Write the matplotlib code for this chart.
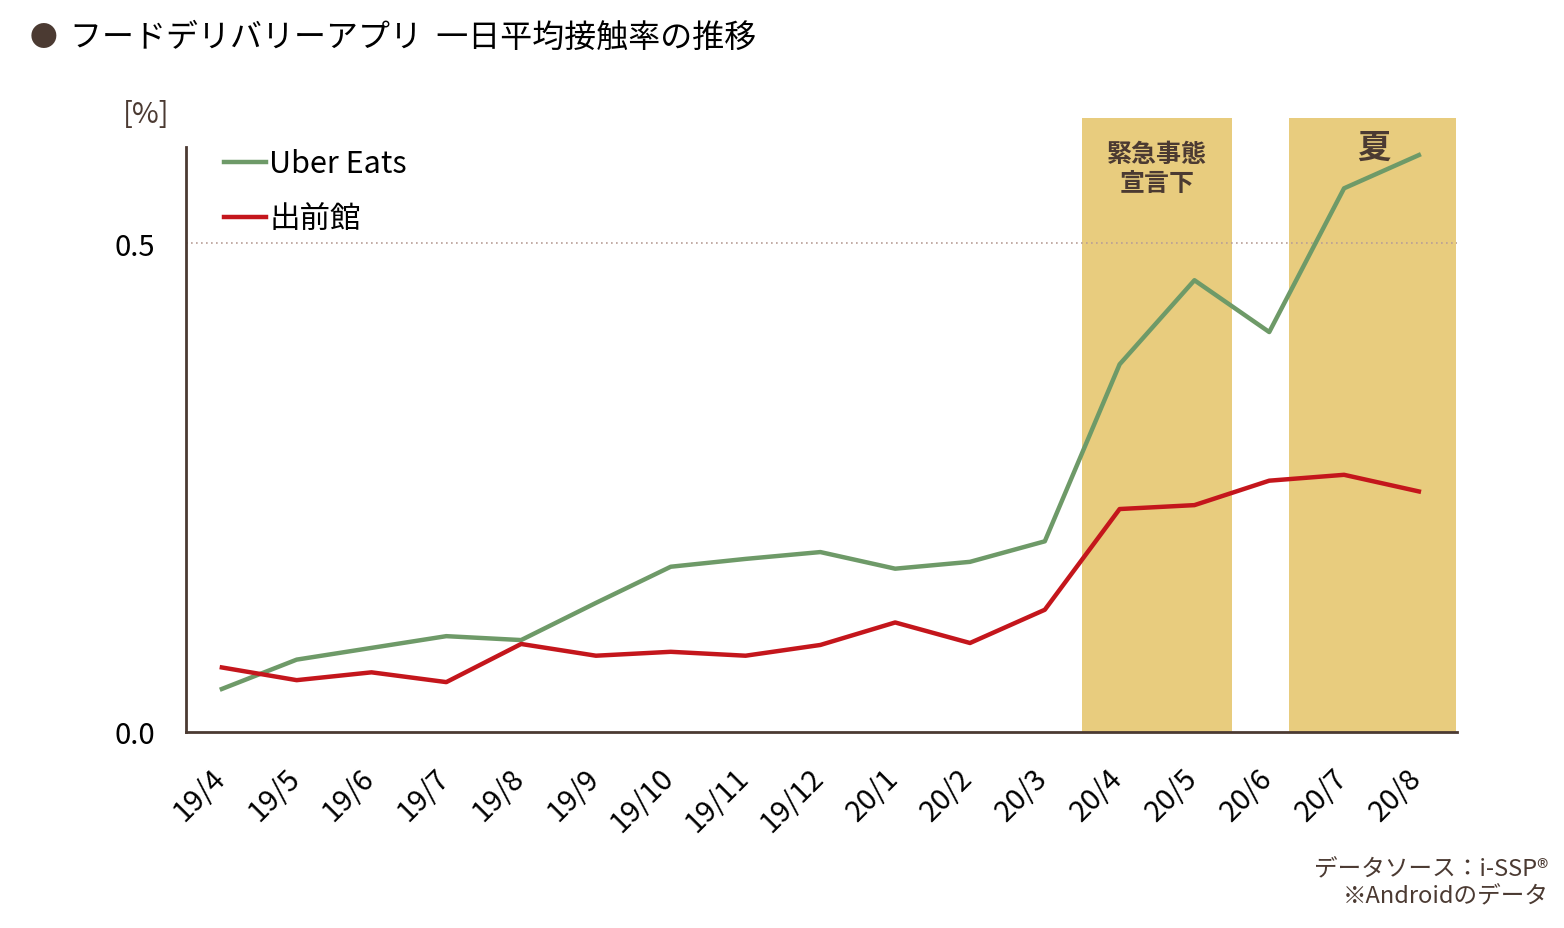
import matplotlib.pyplot as plt
import matplotlib.transforms as mtransforms

plt.rcParams['font.family'] = ['Noto Sans CJK JP', 'DejaVu Sans']

months = ["19/4", "19/5", "19/6", "19/7", "19/8", "19/9", "19/10", "19/11", "19/12",
          "20/1", "20/2", "20/3", "20/4", "20/5", "20/6", "20/7", "20/8"]
uber_eats = [0.044, 0.074, 0.086, 0.098, 0.094, 0.132, 0.169, 0.177, 0.184,
             0.167, 0.174, 0.195, 0.376, 0.462, 0.409, 0.556, 0.590]
demaecan = [0.066, 0.053, 0.061, 0.051, 0.090, 0.078, 0.082, 0.078, 0.089,
            0.112, 0.091, 0.125, 0.228, 0.232, 0.257, 0.263, 0.246]
emergency_span = (11.5, 13.5)
summer_span = (14.27, 16.5)

brown = "#4B3A32"
green = "#6E9A68"
red = "#C4161C"
shade = "#E8CC7E"

fig = plt.figure(figsize=(15.64, 9.29), dpi=100)
ax = fig.add_axes([0.1189, 0.211, 0.8127, 0.661])

x = list(range(len(months)))

# shaded periods
ax.axvspan(*emergency_span, color=shade, lw=0, zorder=0)
ax.axvspan(*summer_span, color=shade, lw=0, zorder=0)

# dotted reference line at 0.5
ax.axhline(0.5, color="#B89E96", lw=1.2, ls=(0, (1, 2)), zorder=1)

ax.plot(x, uber_eats, color=green, lw=3.2, label="Uber Eats", zorder=3)
ax.plot(x, demaecan, color=red, lw=3.2, label="出前館", zorder=3)

ax.set_xlim(-0.48, 16.51)
ax.set_ylim(0, 0.628)
ax.set_yticks([0.0, 0.5])
ax.set_yticklabels(["0.0", "0.5"])
ax.set_xticks(x)
ax.set_xticklabels(months, rotation=45, ha="right", rotation_mode="anchor")
ax.tick_params(axis="both", length=0, labelsize=21, colors="black")
ax.tick_params(axis="x", pad=22)
ax.tick_params(axis="y", pad=22)

# shift x labels a little to the left like the original
offset = mtransforms.ScaledTranslation(-12 / 100, 0, fig.dpi_scale_trans)
for lbl in ax.get_xticklabels():
    lbl.set_transform(lbl.get_transform() + offset)

for s in ["top", "right"]:
    ax.spines[s].set_visible(False)
ax.spines["left"].set_color(brown)
ax.spines["bottom"].set_color(brown)
ax.spines["left"].set_linewidth(2)
ax.spines["bottom"].set_linewidth(2)
ax.spines["left"].set_bounds(0, 0.598)

leg = ax.legend(loc="upper left", bbox_to_anchor=(0.008, 0.995), frameon=False,
                fontsize=22, handlelength=1.4, handletextpad=0.1, labelspacing=0.8)

# shading labels
ax.text(12.5, 0.576, "緊急事態\n宣言下", ha="center", va="center", fontsize=18,
        fontweight="bold", color=brown, linespacing=1.25)
ax.text(15.4, 0.598, "夏", ha="center", va="center", fontsize=24,
        fontweight="bold", color=brown)

# title, unit and source
fig.text(0.019, 0.959, "●", fontsize=20, color=brown, va="center")
fig.text(0.045, 0.959, "フードデリバリーアプリ  一日平均接触率の推移", fontsize=23,
         color="black", va="center")
fig.text(0.0935, 0.876, "[%]", fontsize=21, color=brown, va="center", ha="center")
fig.text(0.99, 0.049, "データソース：i-SSP®\n※Androidのデータ", fontsize=17,
         color=brown, ha="right", va="center", linespacing=1.25)

fig.savefig("out.png", dpi=100)
